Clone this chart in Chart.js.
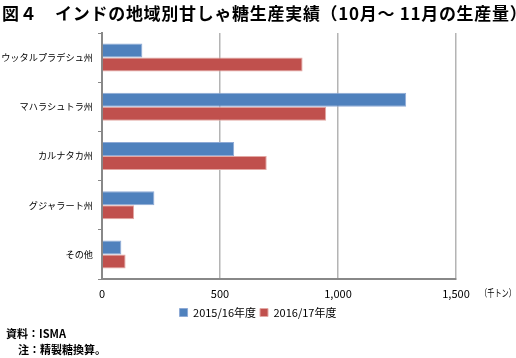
<!DOCTYPE html>
<html>
<head>
<meta charset="utf-8">
<script src="https://cdn.jsdelivr.net/npm/chart.js@4.4.1/dist/chart.umd.min.js"></script>
<style>
  html, body { margin: 0; padding: 0; background: #fff; }
  #wrap { position: relative; width: 516px; height: 358px; overflow: hidden;
    font-family: "Noto Sans CJK JP", "Noto Sans", sans-serif; color: #000; }
  #chart { position: absolute; left: 0; top: 0; }
  .txt { position: absolute; white-space: nowrap; }
  #title { left: 2px; top: 2px; font-size: 17px; font-weight: bold; line-height: 22px; letter-spacing: 0.7px; }
  #unit { left: 480px; top: 285px; font-size: 10px; transform: scaleX(0.72); transform-origin: left top; }
  #src { left: 6px; top: 325px; font-size: 11px; font-weight: bold; }
  #note { left: 18px; top: 341px; font-size: 11px; font-weight: bold; }
</style>
</head>
<body>
<div id="wrap">
  <canvas id="chart" width="516" height="358"></canvas>
  <div class="txt" id="title">図４　インドの地域別甘しゃ糖生産実績（10月～ 11月の生産量）</div>
  <div class="txt" id="unit">（千トン）</div>
  <div class="txt" id="src">資料：ISMA</div>
  <div class="txt" id="note">注：精製糖換算。</div>
</div>
<script>
  "use strict";

  const categories = ["ウッタルプラデシュ州", "マハラシュトラ州", "カルナタカ州", "グジャラート州", "その他"];
  const seriesNames = ["2015/16年度", "2016/17年度"];
  const values2015 = [171, 1289, 560, 222, 82];
  const values2016 = [850, 950, 698, 136, 100];
  const xTicks = [0, 500, 1000, 1500];

  const font = { family: '"Noto Sans CJK JP", "Noto Sans", sans-serif', size: 11 };
  const catFont = { family: '"Noto Sans CJK JP", "Noto Sans", sans-serif', size: 9.2 };

  new Chart(document.getElementById("chart"), {
    type: "bar",
    data: {
      labels: categories,
      datasets: [{
        label: seriesNames[0],
        data: values2015,
        backgroundColor: "#4F81BD",
        borderColor: "#8EAAD6",
        borderWidth: 1,
        categoryPercentage: 0.57,
        barPercentage: 1
      }, {
        label: seriesNames[1],
        data: values2016,
        backgroundColor: "#C0504D",
        borderColor: "#E3A8A4",
        borderWidth: 1,
        categoryPercentage: 0.57,
        barPercentage: 1
      }]
    },
    options: {
      indexAxis: "y",
      responsive: false,
      animation: false,
      layout: { padding: { top: 33, left: 0, right: 0, bottom: 30 } },
      plugins: {
        tooltip: { enabled: false },
        legend: {
          position: "bottom",
          labels: { boxWidth: 8, boxHeight: 8, padding: 4, color: "#000", font: font }
        }
      },
      scales: {
        x: {
          min: 0,
          max: 1500,
          afterBuildTicks: (s) => { s.ticks = xTicks.map((v) => ({ value: v })); },
          afterFit: (s) => { s.height = 24; },
          grid: { color: "#B4B4B4", lineWidth: 1.5, drawTicks: false },
          border: { color: "#888", width: 2 },
          ticks: { color: "#000", font: font, padding: 8, maxRotation: 0,
            callback: (v) => v.toLocaleString("en-US") }
        },
        y: {
          afterFit: (s) => { s.width = 102; },
          grid: { drawOnChartArea: false, color: "#888", tickLength: 4, lineWidth: 1 },
          border: { color: "#888", width: 2 },
          ticks: { color: "#000", font: catFont, padding: 5 }
        },
        pad: {
          position: "right",
          type: "linear",
          afterFit: (s) => { s.width = 60; },
          grid: { display: false },
          border: { display: false },
          ticks: { display: false }
        }
      }
    }
  });
</script>
</body>
</html>
